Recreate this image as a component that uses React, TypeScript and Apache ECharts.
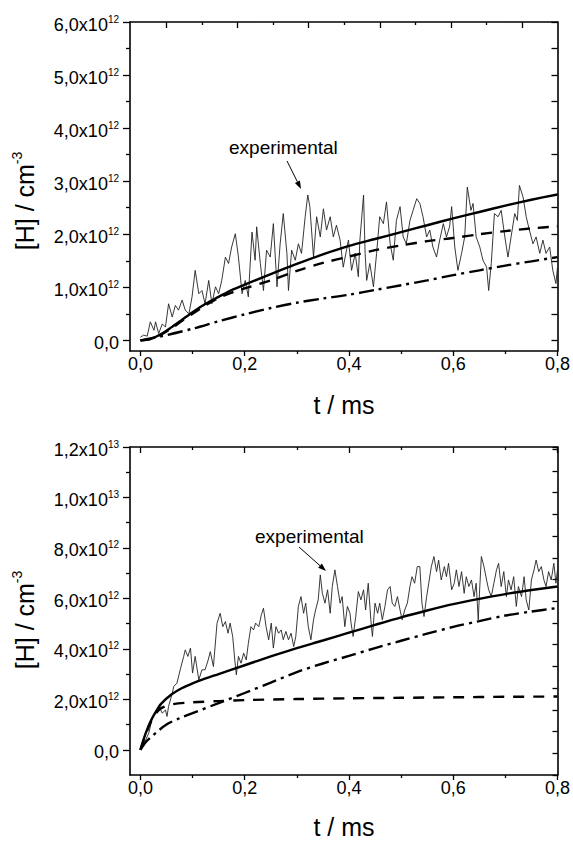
import React, { useEffect, useRef } from "react";
import * as echarts from "echarts";

// ---------- data (concentrations in units of 1e12 cm^-3, time in ms) ----------
const xTicks = [0, 0.2, 0.4, 0.6, 0.8];
const xMinorTicks = [0.1, 0.3, 0.5, 0.7];
const topYTicks = [0, 1, 2, 3, 4, 5, 6];
const topYMinorTicks = [0.5, 1.5, 2.5, 3.5, 4.5, 5.5];
const topRightTicks = [0, 0.5, 1, 1.5, 2, 2.5, 3, 3.5, 4, 4.5, 5, 5.5, 6];
const topTopMajorTicks = [0, 2, 4, 6, 8, 10];
const topTopMinorTicks = [1, 3, 5, 7, 9];
const bottomYTicks = [0, 2, 4, 6, 8, 10, 12];
const bottomYMinorTicks = [1, 3, 5, 7, 9, 11];

const topExperimental: number[][] = [
  [0.000, 0.06], [0.006, 0.10], [0.013, 0.08], [0.019, 0.35], [0.026, 0.19], [0.029, 0.35], [0.035, 0.13],
  [0.042, 0.31], [0.048, 0.25], [0.054, 0.69], [0.061, 0.44], [0.067, 0.66], [0.073, 0.57], [0.080, 0.76],
  [0.086, 0.57], [0.093, 0.50], [0.099, 0.82], [0.105, 1.32], [0.112, 0.88], [0.118, 0.94], [0.124, 0.69],
  [0.131, 1.13], [0.137, 0.69], [0.144, 1.01], [0.150, 0.88], [0.156, 1.13], [0.163, 1.57], [0.169, 1.45],
  [0.175, 1.76], [0.182, 2.01], [0.188, 1.57], [0.195, 0.88], [0.201, 1.13], [0.207, 0.82], [0.214, 2.04],
  [0.220, 1.51], [0.223, 2.14], [0.230, 1.45], [0.236, 0.94], [0.242, 1.70], [0.249, 1.57], [0.255, 2.20],
  [0.262, 1.01], [0.268, 1.82], [0.274, 2.39], [0.281, 1.64], [0.284, 0.94], [0.290, 1.70], [0.297, 1.51],
  [0.303, 1.82], [0.309, 1.64], [0.316, 2.33], [0.321, 2.74], [0.325, 2.52], [0.332, 1.57], [0.338, 2.33],
  [0.345, 1.95], [0.351, 2.48], [0.357, 2.08], [0.364, 2.33], [0.370, 1.95], [0.376, 2.17], [0.383, 1.89],
  [0.389, 1.38], [0.399, 1.89], [0.405, 1.32], [0.412, 1.64], [0.418, 1.20], [0.421, 1.89], [0.428, 2.74],
  [0.431, 1.64], [0.434, 1.13], [0.440, 1.45], [0.447, 1.01], [0.453, 1.64], [0.459, 2.33], [0.466, 2.20],
  [0.472, 2.61], [0.479, 1.82], [0.485, 1.51], [0.491, 2.26], [0.498, 2.52], [0.504, 1.95], [0.510, 1.82],
  [0.517, 2.26], [0.523, 2.45], [0.530, 2.67], [0.536, 2.58], [0.542, 2.33], [0.549, 1.95], [0.555, 2.08],
  [0.561, 1.76], [0.568, 1.57], [0.574, 1.89], [0.581, 2.20], [0.587, 1.95], [0.593, 2.14], [0.597, 2.52],
  [0.603, 1.76], [0.609, 1.32], [0.616, 1.64], [0.622, 1.95], [0.627, 2.89], [0.634, 2.45], [0.638, 2.58],
  [0.644, 1.95], [0.651, 1.76], [0.657, 1.51], [0.664, 1.38], [0.668, 0.94], [0.673, 1.45], [0.679, 2.39],
  [0.686, 2.33], [0.692, 2.45], [0.699, 1.95], [0.705, 1.57], [0.711, 1.95], [0.718, 2.39], [0.723, 2.26],
  [0.727, 2.92], [0.734, 2.70], [0.740, 2.33], [0.746, 2.08], [0.753, 1.82], [0.759, 1.95], [0.766, 1.64],
  [0.772, 1.89], [0.778, 1.64], [0.785, 1.76], [0.791, 1.32], [0.797, 1.07], [0.800, 1.38],
];

const topSolid: number[][] = [
  [0, 0], [0.02, 0.03], [0.04, 0.12], [0.06, 0.25], [0.08, 0.39], [0.1, 0.53], [0.125, 0.69], [0.15, 0.82],
  [0.175, 0.95], [0.2, 1.05], [0.25, 1.25], [0.3, 1.44], [0.35, 1.62], [0.4, 1.78], [0.45, 1.91], [0.5, 2.04],
  [0.55, 2.17], [0.6, 2.30], [0.65, 2.42], [0.7, 2.54], [0.75, 2.65], [0.8, 2.75],
];
const topDashed: number[][] = [
  [0, 0], [0.02, 0.03], [0.04, 0.11], [0.06, 0.23], [0.08, 0.37], [0.1, 0.50], [0.125, 0.66], [0.15, 0.80],
  [0.175, 0.90], [0.2, 0.98], [0.25, 1.13], [0.3, 1.31], [0.35, 1.46], [0.4, 1.58], [0.45, 1.70], [0.5, 1.79],
  [0.55, 1.87], [0.6, 1.93], [0.65, 2.00], [0.7, 2.06], [0.75, 2.11], [0.8, 2.15],
];
const topDashDot: number[][] = [
  [0, 0], [0.05, 0.10], [0.1, 0.22], [0.15, 0.36], [0.2, 0.49], [0.25, 0.61], [0.3, 0.71], [0.35, 0.79],
  [0.4, 0.86], [0.45, 0.95], [0.5, 1.04], [0.55, 1.13], [0.6, 1.23], [0.65, 1.32], [0.7, 1.41], [0.75, 1.49],
  [0.8, 1.57],
];

const bottomExperimental: number[][] = [
  [0.000, 0.00], [0.008, 0.30], [0.016, 0.66], [0.022, 1.19], [0.029, 1.52], [0.035, 1.72], [0.042, 1.45],
  [0.048, 1.58], [0.051, 1.32], [0.054, 1.72], [0.061, 2.24], [0.064, 2.51], [0.070, 2.64], [0.077, 3.23],
  [0.083, 3.70], [0.086, 3.96], [0.091, 3.70], [0.096, 4.03], [0.100, 3.04], [0.105, 3.70], [0.112, 2.77],
  [0.118, 3.17], [0.124, 3.17], [0.130, 3.56], [0.134, 3.89], [0.140, 3.30], [0.147, 5.02], [0.153, 5.41],
  [0.158, 4.88], [0.163, 5.08], [0.168, 4.62], [0.172, 5.02], [0.177, 4.49], [0.181, 3.56], [0.184, 2.97],
  [0.188, 3.70], [0.193, 3.43], [0.198, 3.83], [0.203, 3.56], [0.207, 4.22], [0.212, 4.88], [0.217, 4.75],
  [0.221, 5.02], [0.227, 4.88], [0.232, 5.35], [0.236, 5.61], [0.241, 4.88], [0.246, 4.36], [0.251, 5.02],
  [0.255, 4.03], [0.260, 4.88], [0.265, 4.62], [0.270, 4.75], [0.274, 4.36], [0.279, 4.69], [0.284, 4.36],
  [0.289, 4.62], [0.294, 4.09], [0.298, 4.49], [0.303, 5.68], [0.308, 6.07], [0.313, 5.41], [0.317, 5.81],
  [0.322, 4.88], [0.327, 4.36], [0.332, 5.15], [0.336, 5.54], [0.341, 5.94], [0.345, 6.93], [0.349, 6.20],
  [0.354, 5.81], [0.359, 6.34], [0.364, 5.41], [0.368, 6.47], [0.373, 7.13], [0.378, 6.47], [0.383, 5.81],
  [0.387, 6.07], [0.392, 4.88], [0.397, 5.68], [0.402, 5.41], [0.404, 5.02], [0.408, 4.49], [0.413, 5.28],
  [0.418, 6.27], [0.423, 5.94], [0.428, 6.34], [0.432, 5.54], [0.437, 6.60], [0.442, 5.15], [0.445, 4.49],
  [0.450, 5.81], [0.455, 5.41], [0.459, 5.81], [0.464, 5.15], [0.469, 5.68], [0.474, 6.34], [0.479, 6.47],
  [0.483, 5.81], [0.488, 5.68], [0.493, 6.07], [0.498, 5.54], [0.502, 5.15], [0.507, 5.54], [0.512, 5.81],
  [0.517, 6.47], [0.521, 6.86], [0.526, 6.60], [0.531, 7.26], [0.536, 7.26], [0.540, 5.81], [0.544, 5.28],
  [0.549, 6.07], [0.553, 6.60], [0.558, 7.26], [0.563, 7.66], [0.568, 7.06], [0.572, 7.52], [0.577, 6.73],
  [0.583, 7.26], [0.587, 6.86], [0.591, 7.39], [0.597, 6.34], [0.602, 6.60], [0.606, 7.13], [0.611, 6.47],
  [0.616, 7.06], [0.621, 6.20], [0.625, 6.86], [0.630, 6.47], [0.635, 6.73], [0.640, 6.07], [0.644, 6.60],
  [0.648, 5.15], [0.651, 6.47], [0.654, 7.66], [0.659, 7.26], [0.664, 6.73], [0.668, 6.34], [0.673, 6.07],
  [0.678, 6.60], [0.683, 7.13], [0.687, 7.39], [0.692, 6.47], [0.697, 7.06], [0.702, 6.07], [0.706, 6.73],
  [0.711, 6.34], [0.716, 6.86], [0.721, 5.68], [0.725, 6.47], [0.731, 6.07], [0.736, 6.86], [0.740, 5.94],
  [0.745, 5.54], [0.750, 6.73], [0.755, 7.13], [0.759, 7.52], [0.764, 7.06], [0.769, 7.26], [0.774, 6.73],
  [0.778, 6.47], [0.783, 7.06], [0.788, 6.73], [0.793, 7.39], [0.797, 6.60], [0.800, 7.13],
];

const bottomSolid: number[][] = [
  [0, 0], [0.01, 0.65], [0.02, 1.15], [0.03, 1.52], [0.04, 1.83], [0.06, 2.2], [0.08, 2.45], [0.1, 2.63],
  [0.12, 2.79], [0.15, 3.0], [0.2, 3.35], [0.25, 3.70], [0.3, 4.03], [0.35, 4.33], [0.4, 4.64], [0.45, 4.95],
  [0.5, 5.25], [0.55, 5.52], [0.6, 5.77], [0.65, 5.98], [0.7, 6.17], [0.75, 6.33], [0.8, 6.47],
];
const bottomDashed: number[][] = [
  [0, 0], [0.01, 0.6], [0.02, 1.1], [0.03, 1.45], [0.04, 1.65], [0.06, 1.8], [0.1, 1.88], [0.15, 1.93],
  [0.2, 1.97], [0.3, 2.01], [0.4, 2.04], [0.5, 2.06], [0.6, 2.08], [0.7, 2.10], [0.8, 2.11],
];
const bottomDashDot: number[][] = [
  [0, 0], [0.01, 0.3], [0.02, 0.5], [0.03, 0.68], [0.05, 1.0], [0.075, 1.25], [0.1, 1.45], [0.15, 1.85],
  [0.2, 2.25], [0.25, 2.66], [0.3, 3.08], [0.35, 3.42], [0.4, 3.72], [0.45, 4.03], [0.5, 4.32], [0.55, 4.6],
  [0.6, 4.87], [0.65, 5.1], [0.7, 5.32], [0.75, 5.48], [0.8, 5.62],
];

// ---------- helpers ----------
const FONT = "'Liberation Sans', Arial, Helvetica, sans-serif";

function yLabel(v: number): string {
  if (Math.abs(v) < 1e-9) return "{a|0,0}";
  const raw = v * 1e12;
  const exp = Math.floor(Math.log10(raw) + 1e-9);
  const mant = raw / Math.pow(10, exp);
  return `{a|${mant.toFixed(1).replace(".", ",")}x10}{b|${exp}}`;
}
function xLabel(v: number): string {
  return v.toFixed(1).replace(".", ",");
}

const lineStyleAxis = { color: "#000", width: 1.6 };
const tickStyle = { color: "#000", width: 1.3 };

function axis(opts: any): any {
  return {
    type: "value",
    gridIndex: opts.grid,
    position: opts.position,
    min: opts.min,
    max: opts.max,
    interval: opts.interval,
    axisLine: { show: !!opts.line, onZero: false, lineStyle: lineStyleAxis },
    splitLine: { show: false },
    axisTick: {
      show: true,
      inside: !!opts.inside,
      length: opts.len,
      customValues: opts.ticks,
      lineStyle: tickStyle,
    },
    axisLabel: opts.labels
      ? {
          show: true,
          customValues: opts.ticks,
          formatter: opts.formatter,
          margin: opts.margin,
          color: "#000",
          fontFamily: FONT,
          fontSize: 18,
          padding: opts.labelPadding,
          rich: {
            a: { fontFamily: FONT, fontSize: 18, color: "#000", lineHeight: 21 },
            b: { fontFamily: FONT, fontSize: 10, color: "#000", lineHeight: 11, verticalAlign: "top" },
          },
        }
      : { show: false },
  };
}

function arrow(x1: number, y1: number, x2: number, y2: number): any[] {
  const dx = x2 - x1;
  const dy = y2 - y1;
  const L = Math.sqrt(dx * dx + dy * dy);
  const ux = dx / L;
  const uy = dy / L;
  const hl = 8;
  const hw = 2.8;
  const bx = x2 - ux * hl;
  const by = y2 - uy * hl;
  return [
    { type: "line", shape: { x1, y1, x2: bx, y2: by }, style: { stroke: "#000", lineWidth: 1 } },
    {
      type: "polygon",
      shape: { points: [[x2, y2], [bx - uy * hw, by + ux * hw], [bx + uy * hw, by - ux * hw]] },
      style: { fill: "#000" },
    },
  ];
}

function yTitle(x: number, y: number): any {
  return {
    type: "text",
    x,
    y,
    rotation: Math.PI / 2,
    style: {
      text: "{a|[H] / cm}{b|-3}",
      align: "center",
      verticalAlign: "middle",
      rich: {
        a: { fontFamily: FONT, fontSize: 25, fill: "#000", lineHeight: 30 },
        b: { fontFamily: FONT, fontSize: 14, fill: "#000", lineHeight: 16, verticalAlign: "top" },
      },
    },
  };
}

function plainText(x: number, y: number, text: string, size: number, align: string): any {
  return {
    type: "text",
    x,
    y,
    style: { text, font: `${size}px ${FONT}`, fill: "#000", align, verticalAlign: "middle" },
  };
}

export default function App() {
  const ref = useRef<HTMLDivElement>(null);
  useEffect(() => {
    if (!ref.current) return;
    const chart = echarts.init(ref.current, null, { renderer: "svg" });

    const modelSeries = (data: number[][], xi: number, yi: number, type: any) => ({
      type: "line",
      xAxisIndex: xi,
      yAxisIndex: yi,
      data,
      showSymbol: false,
      smooth: 0.3,
      lineStyle: { color: "#000", width: 2.4, type, cap: "butt" },
      z: 3,
    });
    const expSeries = (data: number[][], xi: number, yi: number) => ({
      type: "line",
      xAxisIndex: xi,
      yAxisIndex: yi,
      data,
      showSymbol: false,
      lineStyle: { color: "#222", width: 0.9 },
      z: 2,
    });

    const option: any = {
      animation: false,
      backgroundColor: "#fff",
      grid: [
        { left: 130, top: 22, width: 428, height: 329 },
        { left: 130, top: 447, width: 428, height: 328 },
      ],
      xAxis: [
        // top panel
        axis({ grid: 0, position: "bottom", min: -0.02, max: 0.8, line: true, len: 5, ticks: xTicks, labels: true, formatter: xLabel, margin: 4 }),
        axis({ grid: 0, position: "bottom", min: -0.02, max: 0.8, len: 3, ticks: xMinorTicks }),
        axis({ grid: 0, position: "top", min: -1.03, max: 11, line: true, inside: true, len: 6, ticks: topTopMajorTicks }),
        axis({ grid: 0, position: "top", min: -1.03, max: 11, inside: true, len: 3, ticks: topTopMinorTicks }),
        // bottom panel
        axis({ grid: 1, position: "bottom", min: -0.02, max: 0.8, line: true, len: 5, ticks: xTicks, labels: true, formatter: xLabel, margin: 4 }),
        axis({ grid: 1, position: "bottom", min: -0.02, max: 0.8, len: 3, ticks: xMinorTicks }),
        axis({ grid: 1, position: "top", min: -0.02, max: 0.8, line: true, inside: true, len: 6, ticks: xTicks }),
        axis({ grid: 1, position: "top", min: -0.02, max: 0.8, inside: true, len: 3, ticks: xMinorTicks }),
      ],
      yAxis: [
        // top panel
        axis({ grid: 0, position: "left", min: -0.2, max: 6, line: true, len: 7, ticks: topYTicks, labels: true, formatter: yLabel, margin: 11, labelPadding: [5, 0, 0, 0] }),
        axis({ grid: 0, position: "left", min: -0.2, max: 6, len: 4, ticks: topYMinorTicks }),
        axis({ grid: 0, position: "right", min: -0.2, max: 6, line: true, inside: true, len: 6, ticks: topRightTicks }),
        // bottom panel
        axis({ grid: 1, position: "left", min: -1, max: 12, line: true, len: 7, ticks: bottomYTicks, labels: true, formatter: yLabel, margin: 11, labelPadding: [5, 0, 0, 0] }),
        axis({ grid: 1, position: "left", min: -1, max: 12, len: 4, ticks: bottomYMinorTicks }),
        axis({ grid: 1, position: "right", min: -1, max: 14.1, interval: 1, line: true, inside: true, len: 5 }),
      ],
      series: [
        expSeries(topExperimental, 0, 0),
        modelSeries(topSolid, 0, 0, "solid"),
        modelSeries(topDashed, 0, 0, [11, 8]),
        modelSeries(topDashDot, 0, 0, [15, 5, 3, 5]),
        expSeries(bottomExperimental, 4, 3),
        modelSeries(bottomSolid, 4, 3, "solid"),
        modelSeries(bottomDashed, 4, 3, [11, 9]),
        modelSeries(bottomDashDot, 4, 3, [15, 5, 3, 5]),
      ],
      graphic: [
        yTitle(25, 201),
        yTitle(25, 620),
        plainText(344, 405, "t / ms", 25, "center"),
        plainText(344, 827, "t / ms", 25, "center"),
        plainText(229, 147, "experimental", 19, "left"),
        plainText(255, 536, "experimental", 19, "left"),
        ...arrow(287, 161, 301, 189),
        ...arrow(299, 547, 326, 571),
      ],
    };
    chart.setOption(option);
    return () => chart.dispose();
  }, []);

  return (
    <div
      ref={ref}
      style={{ position: "fixed", left: 0, top: 0, width: 573, height: 841, background: "#fff" }}
    />
  );
}
